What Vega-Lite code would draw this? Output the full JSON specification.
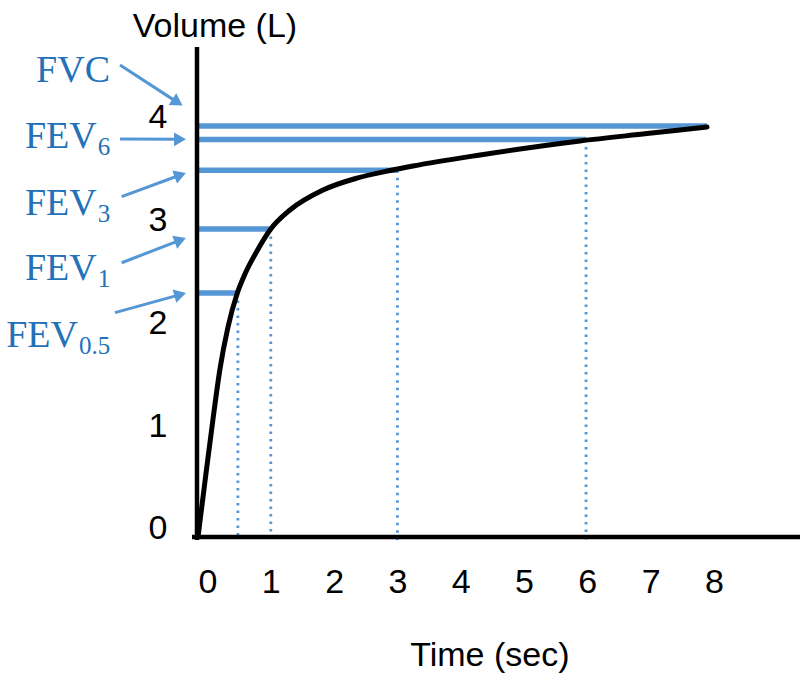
{
  "$schema": "https://vega.github.io/schema/vega-lite/v6.json",
  "width": 800,
  "height": 682,
  "autosize": {"type": "none"},
  "padding": 0,
  "background": "white",
  "config": {"view": {"stroke": null}},
  "datasets": {
    "curve": [
      {"t": -0.15, "vol": 0},
      {"t": -0.039, "vol": 0.544},
      {"t": 0.087, "vol": 1.146},
      {"t": 0.197, "vol": 1.631},
      {"t": 0.324, "vol": 2.039},
      {"t": 0.466, "vol": 2.359},
      {"t": 0.592, "vol": 2.553},
      {"t": 0.782, "vol": 2.777},
      {"t": 0.987, "vol": 2.981},
      {"t": 1.303, "vol": 3.175},
      {"t": 1.825, "vol": 3.369},
      {"t": 2.362, "vol": 3.485},
      {"t": 2.883, "vol": 3.558},
      {"t": 3.246, "vol": 3.602},
      {"t": 4.305, "vol": 3.709},
      {"t": 5.885, "vol": 3.845},
      {"t": 6.943, "vol": 3.917},
      {"t": 7.891, "vol": 3.981}
    ],
    "levels": [
      {"name": "FVC", "start": -0.14, "t": 7.89, "vol": 3.99, "dotted": false},
      {"name": "FEV6", "start": -0.14, "t": 5.98, "vol": 3.86, "dotted": true},
      {"name": "FEV3", "start": -0.14, "t": 3.0, "vol": 3.56, "dotted": true},
      {"name": "FEV1", "start": -0.14, "t": 1.0, "vol": 2.99, "dotted": true},
      {"name": "FEV0.5", "start": -0.14, "t": 0.48, "vol": 2.37, "dotted": true}
    ],
    "axislines": [
      {"x": -0.166, "x2": -0.166, "y": -0.03, "y2": 4.757},
      {"x": -0.245, "x2": 9.36, "y": 0, "y2": 0}
    ],
    "arrows": [
      {"name": "FVC", "x0": -1.382, "y0": 4.583, "x1": -0.474, "y1": 4.22, "angle": 33},
      {"name": "FEV6", "x0": -1.382, "y0": 3.864, "x1": -0.434, "y1": 3.861, "angle": 0},
      {"name": "FEV3", "x0": -1.355, "y0": 3.304, "x1": -0.43, "y1": 3.515, "angle": 340},
      {"name": "FEV1", "x0": -1.355, "y0": 2.663, "x1": -0.43, "y1": 2.883, "angle": 339},
      {"name": "FEV0.5", "x0": -1.461, "y0": 2.178, "x1": -0.431, "y1": 2.353, "angle": 345}
    ],
    "labels": [
      {"main": "FVC", "sub": "", "x": -1.54, "y": 4.42},
      {"main": "FEV", "sub": "6", "x": -1.75, "y": 3.774},
      {"main": "FEV", "sub": "3", "x": -1.75, "y": 3.126},
      {"main": "FEV", "sub": "1", "x": -1.75, "y": 2.495},
      {"main": "FEV", "sub": "0.5", "x": -2.046, "y": 1.848}
    ],
    "titles": [
      {"text": "Volume (L)", "x": 0.118, "y": 4.857},
      {"text": "Time (sec)", "x": 4.46, "y": -1.252}
    ]
  },
  "layer": [
    {
      "data": {"name": "levels"},
      "mark": {"type": "rule", "color": "#5596d4", "strokeWidth": 5.5},
      "encoding": {
        "x": {
          "field": "start", "type": "quantitative",
          "scale": {"domain": [-3.278, 9.36], "nice": false, "zero": false},
          "axis": {"values": [0, 1, 2, 3, 4, 5, 6, 7, 8], "format": "d", "domain": false, "ticks": false, "tickSize": 0, "grid": false, "title": null, "offset": -145, "labelPadding": 55, "labelBaseline": "alphabetic", "labelFont": "Liberation Sans", "labelFontSize": 34, "labelColor": "#000000", "labelFlush": false, "labelOverlap": false}
        },
        "x2": {"field": "t"},
        "y": {
          "field": "vol", "type": "quantitative",
          "scale": {"domain": [-1.408, 5.214], "nice": false, "zero": false},
          "axis": {"values": [0, 1, 2, 3, 4], "format": "d", "domain": false, "ticks": false, "tickSize": 0, "grid": false, "title": null, "offset": -196, "labelPadding": 29, "labelBaseline": "middle", "labelOffset": -8, "labelFont": "Liberation Sans", "labelFontSize": 34, "labelColor": "#000000", "labelFlush": false, "labelOverlap": false}
        }
      }
    },
    {
      "data": {"name": "levels"},
      "transform": [{"filter": "datum.dotted"}],
      "mark": {"type": "rule", "color": "#5596d4", "strokeWidth": 2.8, "strokeDash": [2.5, 5]},
      "encoding": {
        "x": {"field": "t", "type": "quantitative"},
        "y": {"field": "vol", "type": "quantitative"},
        "y2": {"datum": -0.03}
      }
    },
    {
      "data": {"name": "axislines"},
      "mark": {"type": "rule", "color": "#000000", "strokeWidth": 4.5},
      "encoding": {
        "x": {"field": "x", "type": "quantitative"},
        "x2": {"field": "x2"},
        "y": {"field": "y", "type": "quantitative"},
        "y2": {"field": "y2"}
      }
    },
    {
      "data": {"name": "curve"},
      "mark": {"type": "line", "color": "#000000", "strokeWidth": 5, "interpolate": "monotone", "strokeCap": "round"},
      "encoding": {
        "x": {"field": "t", "type": "quantitative"},
        "y": {"field": "vol", "type": "quantitative"}
      }
    },
    {
      "data": {"name": "arrows"},
      "mark": {"type": "rule", "color": "#5596d4", "strokeWidth": 3},
      "encoding": {
        "x": {"field": "x0", "type": "quantitative"},
        "x2": {"field": "x1"},
        "y": {"field": "y0", "type": "quantitative"},
        "y2": {"field": "y1"}
      }
    },
    {
      "data": {"name": "arrows"},
      "mark": {"type": "point", "shape": "triangle-right", "filled": true, "color": "#5596d4", "size": 190, "opacity": 1},
      "encoding": {
        "x": {"field": "x1", "type": "quantitative"},
        "y": {"field": "y1", "type": "quantitative"},
        "angle": {"field": "angle", "type": "quantitative", "scale": null}
      }
    },
    {
      "data": {"name": "labels"},
      "mark": {"type": "text", "align": "right", "baseline": "alphabetic", "font": "Liberation Serif", "fontSize": 38, "color": "#2271b9"},
      "encoding": {
        "x": {"field": "x", "type": "quantitative"},
        "y": {"field": "y", "type": "quantitative"},
        "text": {"field": "main"}
      }
    },
    {
      "data": {"name": "labels"},
      "mark": {"type": "text", "align": "left", "baseline": "alphabetic", "font": "Liberation Serif", "fontSize": 25, "color": "#2271b9", "dx": 1, "dy": 7},
      "encoding": {
        "x": {"field": "x", "type": "quantitative"},
        "y": {"field": "y", "type": "quantitative"},
        "text": {"field": "sub"}
      }
    },
    {
      "data": {"name": "titles"},
      "mark": {"type": "text", "align": "center", "baseline": "alphabetic", "font": "Liberation Sans", "fontSize": 34, "color": "#000000"},
      "encoding": {
        "x": {"field": "x", "type": "quantitative"},
        "y": {"field": "y", "type": "quantitative"},
        "text": {"field": "text"}
      }
    }
  ]
}
